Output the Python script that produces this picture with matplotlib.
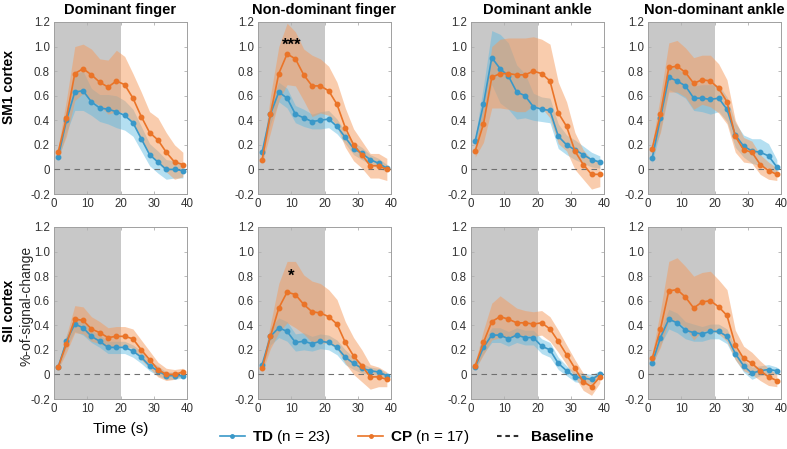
import numpy as np
import matplotlib.pyplot as plt
from matplotlib.lines import Line2D

plt.rcParams['font.family'] = ['Liberation Sans', 'DejaVu Sans']
plt.rcParams['mathtext.fontset'] = 'custom'
plt.rcParams['mathtext.bf'] = 'Liberation Sans:bold'
plt.rcParams['mathtext.rm'] = 'Liberation Sans'

# time points (TR = 2.5 s)
time = [1.25, 3.75, 6.25, 8.75, 11.25, 13.75, 16.25, 18.75,
        21.25, 23.75, 26.25, 28.75, 31.25, 33.75, 36.25, 38.75]

col_titles = ['Dominant finger', 'Non-dominant finger', 'Dominant ankle', 'Non-dominant ankle']
row_titles = ['SM1 cortex', 'SII cortex']

# SM1 cortex - means and SEM
td_sm1_dfinger = [0.10, 0.40, 0.63, 0.64, 0.55, 0.50, 0.49, 0.47, 0.44, 0.38, 0.25, 0.12, 0.06, 0.00, 0.00, -0.01]
td_sm1_dfinger_se = [0.03, 0.10, 0.15, 0.16, 0.11, 0.11, 0.12, 0.13, 0.12, 0.11, 0.10, 0.09, 0.09, 0.08, 0.07, 0.06]
cp_sm1_dfinger = [0.14, 0.42, 0.78, 0.82, 0.77, 0.71, 0.67, 0.72, 0.69, 0.58, 0.43, 0.30, 0.24, 0.14, 0.06, 0.04]
cp_sm1_dfinger_se = [0.04, 0.15, 0.22, 0.20, 0.21, 0.19, 0.22, 0.25, 0.23, 0.20, 0.20, 0.17, 0.18, 0.16, 0.14, 0.10]

td_sm1_ndfinger = [0.14, 0.45, 0.63, 0.58, 0.45, 0.42, 0.39, 0.40, 0.41, 0.35, 0.26, 0.17, 0.13, 0.08, 0.05, 0.01]
td_sm1_ndfinger_se = [0.04, 0.08, 0.08, 0.08, 0.07, 0.07, 0.06, 0.07, 0.07, 0.06, 0.05, 0.05, 0.05, 0.04, 0.04, 0.03]
cp_sm1_ndfinger = [0.08, 0.45, 0.78, 0.94, 0.90, 0.77, 0.68, 0.68, 0.64, 0.53, 0.34, 0.20, 0.12, 0.03, 0.03, 0.00]
cp_sm1_ndfinger_se = [0.03, 0.15, 0.22, 0.25, 0.22, 0.21, 0.25, 0.22, 0.20, 0.18, 0.16, 0.13, 0.11, 0.10, 0.10, 0.09]

td_sm1_dankle = [0.23, 0.53, 0.91, 0.82, 0.76, 0.63, 0.60, 0.51, 0.49, 0.48, 0.27, 0.20, 0.16, 0.12, 0.08, 0.06]
td_sm1_dankle_se = [0.03, 0.15, 0.22, 0.28, 0.27, 0.22, 0.18, 0.11, 0.10, 0.10, 0.10, 0.08, 0.08, 0.07, 0.06, 0.05]
cp_sm1_dankle = [0.15, 0.37, 0.75, 0.78, 0.78, 0.77, 0.77, 0.80, 0.78, 0.72, 0.46, 0.35, 0.15, 0.04, -0.04, -0.04]
cp_sm1_dankle_se = [0.05, 0.15, 0.25, 0.28, 0.29, 0.30, 0.30, 0.28, 0.28, 0.30, 0.25, 0.20, 0.15, 0.12, 0.12, 0.10]

td_sm1_ndankle = [0.09, 0.42, 0.75, 0.72, 0.68, 0.58, 0.58, 0.57, 0.58, 0.49, 0.28, 0.19, 0.15, 0.14, 0.11, 0.02]
td_sm1_ndankle_se = [0.04, 0.10, 0.10, 0.10, 0.10, 0.10, 0.11, 0.12, 0.11, 0.10, 0.10, 0.09, 0.10, 0.11, 0.10, 0.06]
cp_sm1_ndankle = [0.17, 0.45, 0.83, 0.84, 0.79, 0.70, 0.73, 0.72, 0.66, 0.55, 0.27, 0.16, 0.14, 0.04, -0.01, -0.04]
cp_sm1_ndankle_se = [0.04, 0.15, 0.20, 0.21, 0.20, 0.21, 0.20, 0.21, 0.20, 0.18, 0.13, 0.10, 0.09, 0.08, 0.07, 0.05]

# SII cortex - means and SEM
td_sii_dfinger = [0.06, 0.27, 0.41, 0.38, 0.31, 0.27, 0.22, 0.22, 0.22, 0.19, 0.14, 0.07, 0.03, -0.01, -0.01, -0.01]
td_sii_dfinger_se = [0.02, 0.05, 0.06, 0.06, 0.05, 0.05, 0.05, 0.05, 0.05, 0.05, 0.05, 0.04, 0.04, 0.03, 0.03, 0.02]
cp_sii_dfinger = [0.06, 0.25, 0.45, 0.44, 0.37, 0.34, 0.30, 0.31, 0.31, 0.29, 0.20, 0.12, 0.04, 0.00, 0.00, 0.02]
cp_sii_dfinger_se = [0.02, 0.07, 0.11, 0.11, 0.10, 0.09, 0.08, 0.08, 0.08, 0.08, 0.08, 0.07, 0.06, 0.05, 0.04, 0.03]

td_sii_ndfinger = [0.08, 0.31, 0.38, 0.35, 0.26, 0.27, 0.25, 0.27, 0.26, 0.22, 0.14, 0.09, 0.05, 0.03, 0.02, -0.01]
td_sii_ndfinger_se = [0.02, 0.07, 0.08, 0.08, 0.07, 0.07, 0.06, 0.06, 0.06, 0.06, 0.06, 0.05, 0.04, 0.03, 0.03, 0.02]
cp_sii_ndfinger = [0.05, 0.31, 0.54, 0.67, 0.65, 0.57, 0.51, 0.50, 0.47, 0.41, 0.26, 0.15, 0.07, -0.02, -0.02, -0.04]
cp_sii_ndfinger_se = [0.03, 0.10, 0.20, 0.25, 0.27, 0.24, 0.25, 0.24, 0.22, 0.20, 0.17, 0.15, 0.13, 0.10, 0.08, 0.06]

td_sii_dankle = [0.06, 0.22, 0.32, 0.32, 0.29, 0.32, 0.30, 0.30, 0.23, 0.20, 0.09, 0.03, -0.02, -0.03, -0.04, 0.00]
td_sii_dankle_se = [0.02, 0.05, 0.06, 0.06, 0.06, 0.06, 0.06, 0.06, 0.06, 0.06, 0.05, 0.04, 0.04, 0.04, 0.04, 0.03]
cp_sii_dankle = [0.07, 0.26, 0.43, 0.47, 0.45, 0.42, 0.42, 0.41, 0.42, 0.37, 0.27, 0.16, 0.05, -0.06, -0.10, -0.02]
cp_sii_dankle_se = [0.03, 0.10, 0.15, 0.17, 0.14, 0.12, 0.10, 0.10, 0.10, 0.10, 0.09, 0.08, 0.07, 0.07, 0.07, 0.05]

td_sii_ndankle = [0.09, 0.30, 0.45, 0.42, 0.36, 0.34, 0.33, 0.35, 0.35, 0.31, 0.17, 0.07, 0.01, 0.03, 0.04, 0.03]
td_sii_ndankle_se = [0.02, 0.06, 0.08, 0.08, 0.07, 0.07, 0.06, 0.06, 0.06, 0.06, 0.05, 0.05, 0.05, 0.04, 0.04, 0.03]
cp_sii_ndankle = [0.13, 0.37, 0.68, 0.69, 0.63, 0.54, 0.59, 0.60, 0.55, 0.48, 0.24, 0.13, 0.09, 0.03, -0.02, -0.05]
cp_sii_ndankle_se = [0.04, 0.15, 0.24, 0.26, 0.25, 0.26, 0.24, 0.24, 0.22, 0.21, 0.12, 0.10, 0.09, 0.08, 0.07, 0.05]

# significance stars: (row, col, time, y, text)
stars = [(0, 1, 10, 1.01, '***'), (1, 1, 10, 0.80, '*')]

td_rows = [[td_sm1_dfinger, td_sm1_ndfinger, td_sm1_dankle, td_sm1_ndankle],
           [td_sii_dfinger, td_sii_ndfinger, td_sii_dankle, td_sii_ndankle]]
td_se_rows = [[td_sm1_dfinger_se, td_sm1_ndfinger_se, td_sm1_dankle_se, td_sm1_ndankle_se],
              [td_sii_dfinger_se, td_sii_ndfinger_se, td_sii_dankle_se, td_sii_ndankle_se]]
cp_rows = [[cp_sm1_dfinger, cp_sm1_ndfinger, cp_sm1_dankle, cp_sm1_ndankle],
           [cp_sii_dfinger, cp_sii_ndfinger, cp_sii_dankle, cp_sii_ndankle]]
cp_se_rows = [[cp_sm1_dfinger_se, cp_sm1_ndfinger_se, cp_sm1_dankle_se, cp_sm1_ndankle_se],
              [cp_sii_dfinger_se, cp_sii_ndfinger_se, cp_sii_dankle_se, cp_sii_ndankle_se]]

td_color = '#3a98c8'
cp_color = '#ea7428'
td_fill = '#5ab8e0'
cp_fill = '#f59a5c'

W, H = 787, 449
fig = plt.figure(figsize=(W / 100, H / 100), dpi=100)

lefts = [54, 258, 471, 648]
axw = 133
tops = [22, 227]
axh = 172

t = np.array(time)
for i in range(2):
    for j in range(4):
        ax = fig.add_axes([lefts[j] / W, 1 - (tops[i] + axh) / H, axw / W, axh / H])
        ax.axvspan(0, 20, color='#c8c8c8', lw=0, zorder=0)
        td = np.array(td_rows[i][j])
        tdse = np.array(td_se_rows[i][j])
        cp = np.array(cp_rows[i][j])
        cpse = np.array(cp_se_rows[i][j])
        ax.fill_between(t, td - tdse, td + tdse, color=td_fill, alpha=0.45, lw=0, zorder=1)
        ax.fill_between(t, cp - cpse, cp + cpse, color=cp_fill, alpha=0.5, lw=0, zorder=2)
        ax.axhline(0, color='#707070', lw=0.8, ls=(0, (5, 4)), zorder=3)
        ax.plot(t, td, '-o', color=td_color, lw=1.2, ms=3.2, zorder=4)
        ax.plot(t, cp, '-o', color=cp_color, lw=1.2, ms=3.2, zorder=5)
        ax.set_xlim(0, 40)
        ax.set_ylim(-0.2, 1.2)
        ax.set_xticks([0, 10, 20, 30, 40])
        ax.set_yticks([-0.2, 0, 0.2, 0.4, 0.6, 0.8, 1.0, 1.2])
        ax.set_yticklabels(['-0.2', '0', '0.2', '0.4', '0.6', '0.8', '1.0', '1.2'])
        ax.tick_params(direction='in', length=2.5, width=0.6, labelsize=8.3,
                       top=True, right=True, colors='#b0b0b0', labelcolor='#333333', pad=3)
        for s in ax.spines.values():
            s.set_color('#a0a0a0')
            s.set_linewidth(0.7)
        if i == 0:
            ax.set_title(col_titles[j], fontsize=10.5, fontweight='bold', pad=6)
        if i == 1 and j == 0:
            ax.set_xlabel('Time (s)', fontsize=11, labelpad=5)
        for (si, sj, sx, sy, stxt) in stars:
            if si == i and sj == j:
                ax.text(sx, sy, stxt, ha='center', va='center', fontsize=12, fontweight='bold')

fig.text(9 / W, 1 - 87 / H, row_titles[0], rotation=90, ha='center', va='center',
         fontsize=10, fontweight='bold')
fig.text(9 / W, 1 - 311 / H, row_titles[1], rotation=90, ha='center', va='center',
         fontsize=10, fontweight='bold')
fig.text(27 / W, 1 - 306 / H, '%-of-signal-change', rotation=90, ha='center', va='center',
         fontsize=10, color='#262626')

h_td = Line2D([], [], marker='o', color=td_color, lw=1.2, ms=2.5)
h_cp = Line2D([], [], marker='o', color=cp_color, lw=1.2, ms=2.5)
h_bl = Line2D([], [], color='#303030', lw=1.5, ls=(0, (2.2, 1.8)))
fig.legend([h_td, h_cp, h_bl],
           [r'$\mathbf{TD}$ (n = 23)', r'$\mathbf{CP}$ (n = 17)', r'$\mathbf{Baseline}$'],
           loc='center', bbox_to_anchor=(407 / W, 1 - 437 / H), ncol=3, frameon=False,
           fontsize=11, handlelength=1.6, numpoints=1, columnspacing=1.8, handletextpad=0.5)

fig.savefig('out.png', dpi=100)
